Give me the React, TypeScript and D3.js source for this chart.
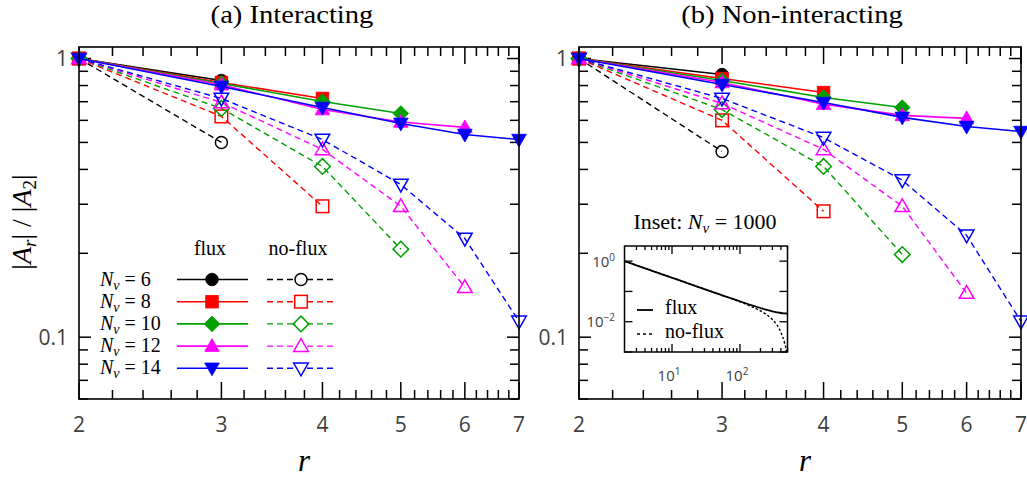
import React from 'react';
import * as d3 from 'd3';

// ---------- data ----------
const rValues = [2, 3, 4, 5, 6, 7];
const nvValues = [6, 8, 10, 12, 14];
const seriesColors = ['#000000', '#ff0000', '#00a000', '#ff00ff', '#0000ff'];
const markerKinds = ['circle', 'square', 'diamond', 'triUp', 'triDown'];

// (a) Interacting
const intFlux6 = [1, 0.834];
const intFlux8 = [1, 0.82, 0.719];
const intFlux10 = [1, 0.814, 0.701, 0.635];
const intFlux12 = [1, 0.805, 0.656, 0.592, 0.566];
const intFlux14 = [1, 0.794, 0.667, 0.585, 0.534, 0.512];
const intNoFlux6 = [1, 0.5];
const intNoFlux8 = [1, 0.62, 0.295];
const intNoFlux10 = [1, 0.662, 0.41, 0.207];
const intNoFlux12 = [1, 0.696, 0.472, 0.295, 0.151];
const intNoFlux14 = [1, 0.719, 0.512, 0.353, 0.226, 0.114];

// (b) Non-interacting
const nonFlux6 = [1, 0.876];
const nonFlux8 = [1, 0.848, 0.755];
const nonFlux10 = [1, 0.834, 0.725, 0.667];
const nonFlux12 = [1, 0.82, 0.686, 0.625, 0.61];
const nonFlux14 = [1, 0.807, 0.695, 0.615, 0.57, 0.547];
const nonNoFlux6 = [1, 0.464];
const nonNoFlux8 = [1, 0.6, 0.283];
const nonNoFlux10 = [1, 0.656, 0.41, 0.198];
const nonNoFlux12 = [1, 0.69, 0.472, 0.295, 0.144];
const nonNoFlux14 = [1, 0.719, 0.52, 0.366, 0.232, 0.114];

// Inset: Nv = 1000 (non-interacting)
const insetR = [2, 3, 5, 7, 10, 15, 20, 30, 50, 70, 100, 150, 200, 250, 300, 350, 400, 450, 480, 500];
const insetFlux = [1, 0.727, 0.487, 0.374, 0.283, 0.206, 0.164, 0.119, 0.08, 0.0618, 0.047, 0.0347, 0.0284, 0.0245, 0.0221, 0.0205, 0.0194, 0.0189, 0.0187, 0.0187];
const insetNoFlux = [1, 0.727, 0.487, 0.374, 0.283, 0.206, 0.164, 0.119, 0.0795, 0.061, 0.0455, 0.031, 0.0228, 0.0166, 0.0118, 0.0078, 0.0044, 0.0021, 0.0011, 0.0004];

const xMajorTicks = [2, 3, 4, 5, 6, 7];
const yMajorTicks = [0.1, 1];
const yTickLabels = ['0.1', '1'];
const yMinorTicks = [0.06, 0.07, 0.08, 0.09, 0.2, 0.3, 0.4, 0.5, 0.6, 0.7, 0.8, 0.9];
const insetXMajor = [10, 100];
const insetYMajor = [1, 0.1, 0.01, 0.001];

// ---------- layout ----------
const W = 1027;
const H = 480;
const TOP = 47;
const BOTTOM = 399;
const SERIF = "'Liberation Serif', 'Times New Roman', Times, serif";
const SANS = "'Open Sans', sans-serif";
const TICK_COLOR = '#404040';

const panels = [
  {
    title: '(a) Interacting', titleX: 292, left: 79, right: 519,
    flux: [intFlux6, intFlux8, intFlux10, intFlux12, intFlux14],
    noflux: [intNoFlux6, intNoFlux8, intNoFlux10, intNoFlux12, intNoFlux14],
    legend: true, inset: false,
  },
  {
    title: '(b) Non-interacting', titleX: 792, left: 579, right: 1021,
    flux: [nonFlux6, nonFlux8, nonFlux10, nonFlux12, nonFlux14],
    noflux: [nonNoFlux6, nonNoFlux8, nonNoFlux10, nonNoFlux12, nonNoFlux14],
    legend: false, inset: true,
  },
];

function Marker({ kind, x, y, color, filled }: { kind: string; x: number; y: number; color: string; filled: boolean }) {
  const fill = filled ? color : 'none';
  const sw = filled ? 0.8 : 1.5;
  const common = { fill, stroke: color, strokeWidth: sw };
  if (kind === 'circle') return <circle cx={x} cy={y} r={filled ? 6.3 : 6} {...common} />;
  if (kind === 'square') return <rect x={x - 6.3} y={y - 6.3} width={12.6} height={12.6} {...common} />;
  if (kind === 'diamond') return <path d={`M${x},${y - 7.8}L${x + 7.8},${y}L${x},${y + 7.8}L${x - 7.8},${y}Z`} {...common} />;
  if (kind === 'triUp') return <path d={`M${x},${y - 7.5}L${x + 7.3},${y + 5.3}L${x - 7.3},${y + 5.3}Z`} {...common} />;
  return <path d={`M${x},${y + 7.5}L${x + 7.3},${y - 5.3}L${x - 7.3},${y - 5.3}Z`} {...common} />;
}

function NvLabel({ x, y, n }: { x: number; y: number; n: number }) {
  return (
    <text x={x} y={y} fontFamily={SERIF} fontSize={20} fill="#000">
      <tspan fontStyle="italic">N</tspan>
      <tspan fontStyle="italic" fontSize={14} dy={4}>v</tspan>
      <tspan dy={-4}>{` = ${n}`}</tspan>
    </text>
  );
}

function Panel({ p }: { p: typeof panels[number] }) {
  const x = d3.scaleLog().domain([2, 7]).range([p.left, p.right]);
  const y = d3.scaleLog().domain([0.06, 1.1]).range([BOTTOM, TOP]);
  const line = d3.line<number>().x((_, i) => x(rValues[i])).y((d) => y(d));
  const xMinor = d3.range(2.2, 7, 0.2).filter((v) => Math.abs(v - Math.round(v)) > 0.05);

  const elems: React.ReactNode[] = [];
  p.noflux.forEach((vals, si) => {
    elems.push(<path key={`nfl${si}`} d={line(vals) || ''} fill="none" stroke={seriesColors[si]} strokeWidth={1.4} strokeDasharray="6,4" />);
    vals.forEach((v, i) => elems.push(<Marker key={`nfm${si}-${i}`} kind={markerKinds[si]} x={x(rValues[i])} y={y(v)} color={seriesColors[si]} filled={false} />));
  });
  p.flux.forEach((vals, si) => {
    elems.push(<path key={`fl${si}`} d={line(vals) || ''} fill="none" stroke={seriesColors[si]} strokeWidth={1.6} />);
    vals.forEach((v, i) => elems.push(<Marker key={`fm${si}-${i}`} kind={markerKinds[si]} x={x(rValues[i])} y={y(v)} color={seriesColors[si]} filled={true} />));
  });

  return (
    <g>
      <text transform={`translate(${p.titleX},23) scale(1.1,1)`} textAnchor="middle" fontFamily={SERIF} fontSize={26}>{p.title}</text>
      {xMajorTicks.map((t) => (
        <g key={`xM${t}`}>
          <line x1={x(t)} x2={x(t)} y1={BOTTOM} y2={BOTTOM - 17} stroke="#000" strokeWidth={1.5} />
          <line x1={x(t)} x2={x(t)} y1={TOP} y2={TOP + 17} stroke="#000" strokeWidth={1.5} />
          <text x={x(t)} y={432} textAnchor="middle" fontFamily={SANS} fontSize={21} fill={TICK_COLOR}>{t}</text>
        </g>
      ))}
      {xMinor.map((t, i) => (
        <g key={`xm${i}`}>
          <line x1={x(t)} x2={x(t)} y1={BOTTOM} y2={BOTTOM - 9} stroke="#000" strokeWidth={1.5} />
          <line x1={x(t)} x2={x(t)} y1={TOP} y2={TOP + 9} stroke="#000" strokeWidth={1.5} />
        </g>
      ))}
      {yMajorTicks.map((t, i) => (
        <g key={`yM${t}`}>
          <line x1={p.left} x2={p.left + 12} y1={y(t)} y2={y(t)} stroke="#000" strokeWidth={1.5} />
          <line x1={p.right} x2={p.right - 12} y1={y(t)} y2={y(t)} stroke="#000" strokeWidth={1.5} />
          <text x={p.left - 11} y={y(t) + 7.5} textAnchor="end" fontFamily={SANS} fontSize={21} fill={TICK_COLOR}>{yTickLabels[i]}</text>
        </g>
      ))}
      {yMinorTicks.map((t) => (
        <g key={`ym${t}`}>
          <line x1={p.left} x2={p.left + 9} y1={y(t)} y2={y(t)} stroke="#000" strokeWidth={1.5} />
          <line x1={p.right} x2={p.right - 9} y1={y(t)} y2={y(t)} stroke="#000" strokeWidth={1.5} />
        </g>
      ))}
      {elems}
      <rect x={p.left} y={TOP} width={p.right - p.left} height={BOTTOM - TOP} fill="none" stroke="#000" strokeWidth={1.6} />
      <text x={(p.left + p.right) / 2 + 5} y={471} textAnchor="middle" fontFamily={SERIF} fontStyle="italic" fontSize={31}>r</text>
      {p.legend && <Legend />}
      {p.inset && <Inset />}
    </g>
  );
}

function Legend() {
  const y0 = 279.5;
  const step = 22.2;
  return (
    <g>
      <text x={210} y={255} textAnchor="middle" fontFamily={SERIF} fontSize={20}>flux</text>
      <text x={298} y={255} textAnchor="middle" fontFamily={SERIF} fontSize={20}>no-flux</text>
      {nvValues.map((n, i) => {
        const yy = y0 + i * step;
        return (
          <g key={`lg${n}`}>
            <NvLabel x={100} y={yy + 6} n={n} />
            <line x1={177} x2={248} y1={yy} y2={yy} stroke={seriesColors[i]} strokeWidth={1.6} />
            <Marker kind={markerKinds[i]} x={212} y={yy} color={seriesColors[i]} filled={true} />
            <line x1={267} x2={337} y1={yy} y2={yy} stroke={seriesColors[i]} strokeWidth={1.4} strokeDasharray="6,4" />
            <circle cx={301} cy={yy} r={6} fill="#fff" stroke="none" />
            <Marker kind={markerKinds[i]} x={301} y={yy} color={seriesColors[i]} filled={false} />
          </g>
        );
      })}
    </g>
  );
}

function Inset() {
  const L = 624.5, R = 787.5, T = 246, B = 352;
  const x = d3.scaleLog().domain([2, 500]).range([L, R]);
  const y = d3.scaleLog().domain([0.001, Math.pow(10, 0.5)]).range([B, T]);
  const line = d3.line<number>().x((_, i) => x(insetR[i])).y((d) => y(d)).curve(d3.curveMonotoneX);
  const minor: number[] = [];
  [1, 10, 100].forEach((dec) => {
    for (let k = 2; k <= 9; k++) {
      const v = k * dec;
      if (v > 2 && v <= 500 && v !== 10 && v !== 100) minor.push(v);
    }
  });
  return (
    <g>
      <text x={705} y={229} textAnchor="middle" fontFamily={SERIF} fontSize={22}>
        <tspan>Inset: </tspan>
        <tspan fontStyle="italic">N</tspan>
        <tspan fontStyle="italic" fontSize={15} dy={4}>v</tspan>
        <tspan dy={-4}> = 1000</tspan>
      </text>
      <defs>
        <clipPath id="insetClip"><rect x={L} y={T} width={R - L} height={B - T} /></clipPath>
      </defs>
      <rect x={L} y={T} width={R - L} height={B - T} fill="#fff" stroke="none" />
      <g clipPath="url(#insetClip)">
        <path d={line(insetNoFlux) || ''} fill="none" stroke="#000" strokeWidth={1.4} strokeDasharray="2.5,2" />
        <path d={line(insetFlux) || ''} fill="none" stroke="#000" strokeWidth={1.8} />
      </g>
      {insetXMajor.map((t, i) => (
        <g key={`ixM${t}`}>
          <line x1={x(t)} x2={x(t)} y1={B} y2={B - 8} stroke="#000" strokeWidth={1.3} />
          <line x1={x(t)} x2={x(t)} y1={T} y2={T + 8} stroke="#000" strokeWidth={1.3} />
          <text x={x(t) - 3} y={381} textAnchor="middle" fontFamily={SANS} fontSize={15} fill={TICK_COLOR}>
            10<tspan fontSize={10} dy={-6}>{i + 1}</tspan>
          </text>
        </g>
      ))}
      {minor.map((t) => (
        <g key={`ixm${t}`}>
          <line x1={x(t)} x2={x(t)} y1={B} y2={B - 4} stroke="#000" strokeWidth={1.3} />
          <line x1={x(t)} x2={x(t)} y1={T} y2={T + 4} stroke="#000" strokeWidth={1.3} />
        </g>
      ))}
      {insetYMajor.map((t) => (
        <g key={`iyM${t}`}>
          <line x1={L} x2={L + 8} y1={y(t)} y2={y(t)} stroke="#000" strokeWidth={1.3} />
          <line x1={R} x2={R - 8} y1={y(t)} y2={y(t)} stroke="#000" strokeWidth={1.3} />
        </g>
      ))}
      <text x={615} y={y(1) + 5.5} textAnchor="end" fontFamily={SANS} fontSize={15} fill={TICK_COLOR}>
        10<tspan fontSize={10} dy={-6}>0</tspan>
      </text>
      <text x={615} y={y(0.01) + 5.5} textAnchor="end" fontFamily={SANS} fontSize={15} fill={TICK_COLOR}>
        10<tspan fontSize={10} dy={-6}>−2</tspan>
      </text>
      <rect x={L} y={T} width={R - L} height={B - T} fill="none" stroke="#000" strokeWidth={1.5} />
      <line x1={637} x2={653} y1={310} y2={310} stroke="#000" strokeWidth={1.8} />
      <text x={665} y={314} fontFamily={SERIF} fontSize={20}>flux</text>
      <line x1={637} x2={653} y1={334} y2={334} stroke="#000" strokeWidth={1.4} strokeDasharray="3,3" />
      <text x={665} y={338} fontFamily={SERIF} fontSize={20}>no-flux</text>
    </g>
  );
}

export default function App() {
  return (
    <svg width={W} height={H} viewBox={`0 0 ${W} ${H}`} style={{ position: 'absolute', left: 0, top: 0, background: '#fff' }}>
      <rect x={0} y={0} width={W} height={H} fill="#fff" />
      {panels.map((p, i) => <Panel key={i} p={p} />)}
      <text transform="translate(31,222) rotate(-90)" textAnchor="middle" fontFamily={SERIF} fontSize={28}>
        <tspan>|</tspan>
        <tspan fontStyle="italic">A</tspan>
        <tspan fontStyle="italic" fontSize={19} dy={5}>r</tspan>
        <tspan dy={-5}>| / |</tspan>
        <tspan fontStyle="italic">A</tspan>
        <tspan fontSize={19} dy={5}>2</tspan>
        <tspan dy={-5}>|</tspan>
      </text>
    </svg>
  );
}
